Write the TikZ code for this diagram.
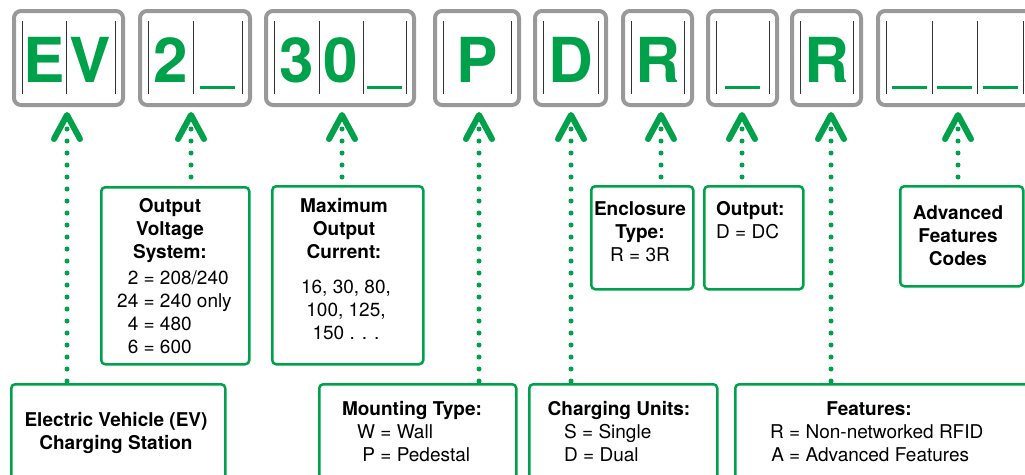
\documentclass[tikz,border=0pt]{standalone}
\usepackage{fontspec}
\setmainfont{TeX Gyre Heros}
\definecolor{codegreen}{RGB}{0,161,75}
\definecolor{boxgray}{RGB}{153,153,153}
\definecolor{bargray}{RGB}{50,50,50}
\begin{document}
\begin{tikzpicture}
[x=1pt,y=-1pt,
  codebox/.style={draw=boxgray,line width=4pt,rounded corners=7pt,minimum height=94pt,inner sep=0pt},%
  cellbar/.style={draw=bargray,line width=1pt},%
  codechar/.style={anchor=base,inner sep=0pt,text=codegreen,font=\fontsize{62}{62}\selectfont\bfseries},%
  blankbar/.style={draw=codegreen,line width=3.5pt},%
  chevron/.style={draw=codegreen,line width=6pt,line cap=round,line join=round},%
  dotline/.style={draw=codegreen,line width=5pt,line cap=round,dash pattern=on 0pt off 12pt},%
  descbox/.style={draw=codegreen,line width=2.5pt,rounded corners=4pt,anchor=north west,inner sep=0pt},%
  bodytext/.style={anchor=base,inner sep=0pt,align=center,font=\fontsize{19}{23}\selectfont},%
  headtext/.style={bodytext,font=\fontsize{19}{23}\selectfont\bfseries},%
  itemtext/.style={anchor=base west,inner sep=0pt,font=\fontsize{19}{23}\selectfont}]
\useasboundingbox (0,0) rectangle (1025,474);
%% code boxes
\foreach \boxname/\xl/\xr in {
  cEV/22/115, cVolt/148/242, cAmp/274/406, cMount/443/511, cUnits/543/598,
  cEncl/631/684, cOut/716/769, cFeat/800/853, cAdv/886/1023}
{
  \node (\boxname) at ({(\xl+\xr)/2},58) [codebox,minimum width={\xr-\xl+16}] {};
}
\foreach \x in {22,66,115, 148,193,242, 274,319,363,406, 443,511, 543,598,
  631,684, 716,769, 800,853, 886,932,977,1023}
{
  \draw[cellbar] (\x,21) -- (\x,94);
}
%% code letters and blanks
\foreach \charname/\x/\ch in {
  chE/44/E, chV/90.5/V, chTwo/170.5/2, chThree/296.5/3, chZero/341/0,
  chP/477/P, chD/570.5/D, chR/657.5/R, chRR/826.5/R}
{
  \node (\charname) at (\x,82) [codechar] {\ch};
}
\foreach \x in {217.5, 384.5, 742.5, 909, 954.5, 1000}
{
  \draw[blankbar] (\x-17.5,87.5) -- (\x+17.5,87.5);
}
%% description boxes
\node (ev) at (10,383) [descbox,minimum width=214,minimum height=97] {};
\node (volt) at (100,186) [descbox,minimum width=148,minimum height=177] {};
\node (amp) at (271,185) [descbox,minimum width=151,minimum height=178] {};
\node (mount) at (318,383) [descbox,minimum width=197,minimum height=97] {};
\node (units) at (528,383) [descbox,minimum width=188,minimum height=97] {};
\node (encl) at (590,185) [descbox,minimum width=102,minimum height=103] {};
\node (outp) at (703,185) [descbox,minimum width=99,minimum height=103] {};
\node (feat) at (734,383) [descbox,minimum width=310,minimum height=97] {};
\node (adv) at (899,185) [descbox,minimum width=123,minimum height=100] {};
%% description texts (placed at the baseline of their last line)
\node (evHead) at (116,449) [headtext] {Electric Vehicle (EV)\\Charging Station};
\node (voltHead) at (170,258) [headtext] {Output\\Voltage\\System:};
\node (voltList) at (117,284) [itemtext]
  {\begin{tabular}[t]{@{}r@{ = }l@{}}2&208/240\\24&240 only\\4&480\\6&600\end{tabular}};
\node (ampHead) at (344,258) [headtext] {Maximum\\Output\\Current:};
\node (ampList) at (346,339) [bodytext] {16, 30, 80,\\100, 125,\\150 . . .};
\node (mountHead) at (412,415) [headtext] {Mounting Type:};
\node (mountList) at (357,438) [itemtext]
  {\begin{tabular}[t]{@{}r@{ = }l@{}}W&Wall\\P&Pedestal\end{tabular}};
\node (unitsHead) at (619,415) [headtext] {Charging Units:};
\node (unitsList) at (564,461) [itemtext,align=left] {S = Single\\D = Dual};
\node (enclHead) at (640,261) [bodytext] {\textbf{Enclosure}\\\textbf{Type:}\\R = 3R};
\node (outpHead) at (716,238) [itemtext,align=left] {\textbf{Output:}\\D = DC};
\node (featHead) at (869,415) [headtext] {Features:};
\node (featList) at (770,438) [itemtext]
  {\begin{tabular}[t]{@{}r@{ = }l@{}}R&Non-networked RFID\\A&Advanced Features\end{tabular}};
\node (advHead) at (958,265) [headtext] {Advanced\\Features\\Codes};
%% pointers
\foreach \tipname/\x/\target in {
  tEV/67/ev, tVolt/191/volt, tAmp/342/amp, tMount/479/mount, tUnits/571/units,
  tEncl/661/encl, tOut/742/outp, tFeat/831/feat, tAdv/958/adv}
{
  \draw[chevron] (\x-13,139) -- (\x,115) -- (\x+13,139);
  \coordinate (\tipname) at (\x,129);
  \draw[dotline] (\tipname) -- (\tipname |- \target.north);
}
\end{tikzpicture}
\end{document}
